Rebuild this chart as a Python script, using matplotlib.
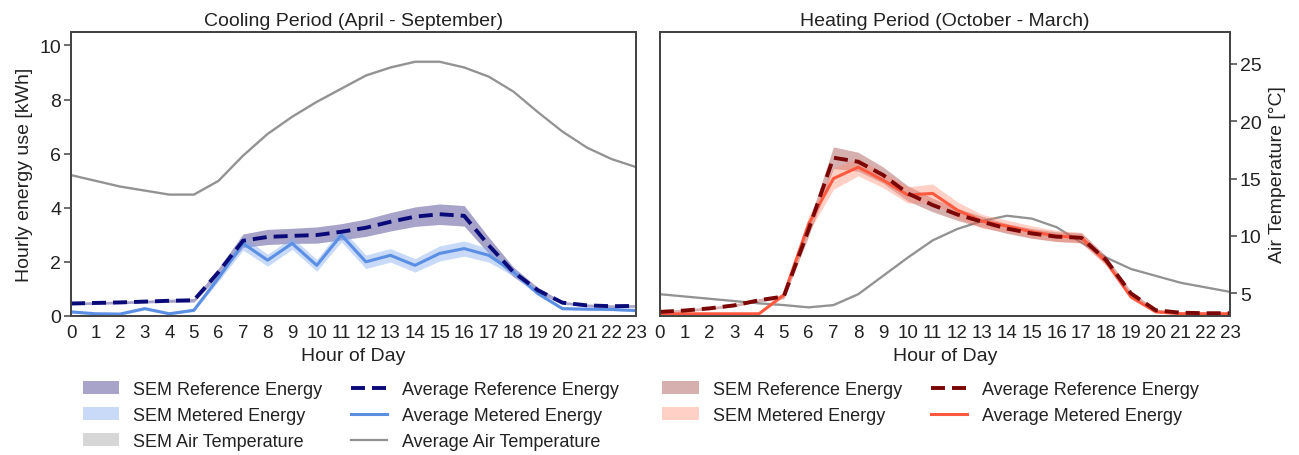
import numpy as np
import matplotlib
matplotlib.use("Agg")
import matplotlib.pyplot as plt
from matplotlib.patches import Patch
from matplotlib.lines import Line2D

plt.rcParams["font.family"] = ["Liberation Sans", "DejaVu Sans"]

hours = list(range(24))

# Cooling period (April - September)
cool_ref = [0.46, 0.48, 0.50, 0.53, 0.56, 0.58, 1.62, 2.78, 2.92, 2.96, 2.99, 3.11,
            3.26, 3.48, 3.67, 3.76, 3.70, 2.61, 1.63, 0.95, 0.49, 0.39, 0.36, 0.37]
cool_ref_sem = [0.05, 0.05, 0.05, 0.05, 0.06, 0.07, 0.15, 0.25, 0.28, 0.28, 0.30, 0.30,
                0.32, 0.34, 0.36, 0.38, 0.38, 0.30, 0.18, 0.10, 0.05, 0.05, 0.05, 0.05]
cool_met = [0.15, 0.08, 0.07, 0.27, 0.08, 0.21, 1.40, 2.68, 2.06, 2.68, 1.87, 2.99,
            2.00, 2.24, 1.87, 2.31, 2.49, 2.24, 1.63, 0.83, 0.27, 0.25, 0.24, 0.20]
cool_met_sem = [0.05, 0.04, 0.04, 0.05, 0.04, 0.05, 0.12, 0.25, 0.22, 0.22, 0.22, 0.25,
                0.25, 0.25, 0.25, 0.28, 0.28, 0.25, 0.15, 0.08, 0.05, 0.05, 0.05, 0.05]
cool_temp = [15.3, 14.8, 14.3, 13.95, 13.6, 13.6, 14.8, 17.0, 18.9, 20.4, 21.7, 22.85,
             24.0, 24.7, 25.2, 25.2, 24.7, 23.9, 22.6, 20.8, 19.1, 17.7, 16.7, 16.0]
cool_temp_sem = [0.08] * 24

# Heating period (October - March)
heat_ref = [0.15, 0.20, 0.28, 0.39, 0.58, 0.72, 3.20, 5.85, 5.70, 5.21, 4.53, 4.10,
            3.75, 3.48, 3.23, 3.05, 2.93, 2.89, 2.06, 0.83, 0.21, 0.12, 0.10, 0.10]
heat_ref_sem = [0.05, 0.05, 0.05, 0.05, 0.06, 0.08, 0.25, 0.40, 0.35, 0.30, 0.28, 0.25,
                0.22, 0.20, 0.18, 0.18, 0.18, 0.18, 0.15, 0.08, 0.05, 0.04, 0.04, 0.04]
heat_met = [0.08, 0.08, 0.08, 0.08, 0.08, 0.78, 3.40, 5.08, 5.50, 5.02, 4.47, 4.53,
            3.91, 3.50, 3.32, 3.11, 2.96, 2.89, 2.00, 0.70, 0.15, 0.08, 0.08, 0.08]
heat_met_sem = [0.02, 0.02, 0.02, 0.02, 0.02, 0.08, 0.30, 0.40, 0.32, 0.28, 0.30, 0.35,
                0.30, 0.25, 0.22, 0.22, 0.20, 0.20, 0.15, 0.08, 0.04, 0.02, 0.02, 0.02]
heat_temp = [4.9, 4.7, 4.5, 4.3, 4.1, 3.95, 3.75, 3.95, 4.9, 6.5, 8.1, 9.6,
             10.6, 11.3, 11.75, 11.5, 10.75, 9.4, 8.1, 7.1, 6.5, 5.9, 5.5, 5.1]
heat_temp_sem = [0.06] * 24

SPINE = "#444444"
TEXT = "#222222"
TEMP_COLOR = "#929292"

fig = plt.figure(figsize=(12.99, 4.56), dpi=100)
ax1 = fig.add_axes([0.0547, 0.305, 0.435, 0.6228])
ax2 = fig.add_axes([0.508, 0.305, 0.439, 0.6228], sharey=ax1)
t1 = ax1.twinx()
t2 = ax2.twinx()
t2.sharey(t1)


def draw_panel(ax, tax, ref, ref_sem, met, met_sem, temp, temp_sem, c):
    x = np.array(hours)
    ref, ref_sem = np.array(ref), np.array(ref_sem)
    met, met_sem = np.array(met), np.array(met_sem)
    temp, temp_sem = np.array(temp), np.array(temp_sem)
    tax.fill_between(x, temp - temp_sem, temp + temp_sem, color="#bbbbbb", alpha=0.6, lw=0)
    tax.plot(x, temp, color=TEMP_COLOR, lw=1.6)
    ax.fill_between(x, ref - ref_sem, ref + ref_sem, color=c["ref_fill"], alpha=c["ref_alpha"], lw=0)
    ax.fill_between(x, met - met_sem, met + met_sem, color=c["met_fill"], alpha=c["met_alpha"], lw=0)
    ax.plot(x, met, color=c["met"], lw=2.2)
    ax.plot(x, ref, color=c["ref"], lw=2.8, ls="--", dashes=(3.6, 1.8))
    # energy axes drawn over the temperature twin
    ax.set_zorder(tax.get_zorder() + 1)
    ax.patch.set_visible(False)
    tax.patch.set_visible(True)
    tax.patch.set_facecolor("white")


cool_c = dict(ref="#0a0a78", ref_fill="#3c3488", ref_alpha=0.45,
              met="#5b8fe3", met_fill="#86aef0", met_alpha=0.45)
heat_c = dict(ref="#7a0606", ref_fill="#8b1a1a", ref_alpha=0.35,
              met="#ff5a40", met_fill="#ff8a70", met_alpha=0.4)

draw_panel(ax1, t1, cool_ref, cool_ref_sem, cool_met, cool_met_sem, cool_temp, cool_temp_sem, cool_c)
draw_panel(ax2, t2, heat_ref, heat_ref_sem, heat_met, heat_met_sem, heat_temp, heat_temp_sem, heat_c)

ax1.set_ylim(0, 10.5)
t1.set_ylim(3.0, 27.8)
for ax in (ax1, ax2):
    ax.set_xlim(0, 23)
    ax.set_xticks(hours)
    ax.set_xticklabels([str(h) for h in hours])
    ax.set_xlabel("Hour of Day", fontsize=14, labelpad=4, color=TEXT)
    ax.tick_params(axis="x", length=0, pad=6, labelsize=13.5, colors=TEXT)
for ax in (ax1, ax2, t1, t2):
    for s in ax.spines.values():
        s.set_color(SPINE)
        s.set_linewidth(1.3)

ax1.set_yticks([0, 2, 4, 6, 8, 10])
ax1.tick_params(axis="y", length=5, width=1.1, color=SPINE, labelsize=14, colors=TEXT, pad=2)
ax1.set_ylabel("Hourly energy use [kWh]", fontsize=14, color=TEXT, labelpad=5)
ax2.tick_params(axis="y", left=False, labelleft=False)
t1.tick_params(axis="y", right=False, labelright=False)
t2.set_yticks([5, 10, 15, 20, 25])
t2.tick_params(axis="y", length=5, width=1.1, color=SPINE, labelsize=14, colors=TEXT, pad=2)
t2.set_ylabel("Air Temperature [°C]", fontsize=14, color=TEXT, labelpad=5)

ax1.set_title("Cooling Period (April - September)", fontsize=14, color=TEXT, pad=5)
ax2.set_title("Heating Period (October - March)", fontsize=14, color=TEXT, pad=5)

legend_kw = dict(ncol=2, frameon=False, fontsize=13, handlelength=2.0, handleheight=0.75,
                 handletextpad=0.8, columnspacing=1.6, labelspacing=0.5,
                 loc="upper left", borderaxespad=0, borderpad=0, labelcolor=TEXT)

cool_handles = [
    Patch(facecolor=cool_c["ref_fill"], alpha=cool_c["ref_alpha"], lw=0),
    Patch(facecolor=cool_c["met_fill"], alpha=cool_c["met_alpha"], lw=0),
    Patch(facecolor="#bbbbbb", alpha=0.6, lw=0),
    Line2D([], [], color=cool_c["ref"], lw=2.8, ls="--", dashes=(3.6, 1.8)),
    Line2D([], [], color=cool_c["met"], lw=2.2),
    Line2D([], [], color=TEMP_COLOR, lw=1.6),
]
cool_labels = ["SEM Reference Energy", "SEM Metered Energy", "SEM Air Temperature",
               "Average Reference Energy", "Average Metered Energy", "Average Air Temperature"]
fig.legend(cool_handles, cool_labels, bbox_to_anchor=(0.0637, 0.162), **legend_kw)

heat_handles = [
    Patch(facecolor=heat_c["ref_fill"], alpha=heat_c["ref_alpha"], lw=0),
    Patch(facecolor=heat_c["met_fill"], alpha=heat_c["met_alpha"], lw=0),
    Line2D([], [], color=heat_c["ref"], lw=2.8, ls="--", dashes=(3.6, 1.8)),
    Line2D([], [], color=heat_c["met"], lw=2.2),
]
heat_labels = ["SEM Reference Energy", "SEM Metered Energy",
               "Average Reference Energy", "Average Metered Energy"]
fig.legend(heat_handles, heat_labels, bbox_to_anchor=(0.510, 0.162), **legend_kw)

fig.savefig("out.png", dpi=100, facecolor="white")
